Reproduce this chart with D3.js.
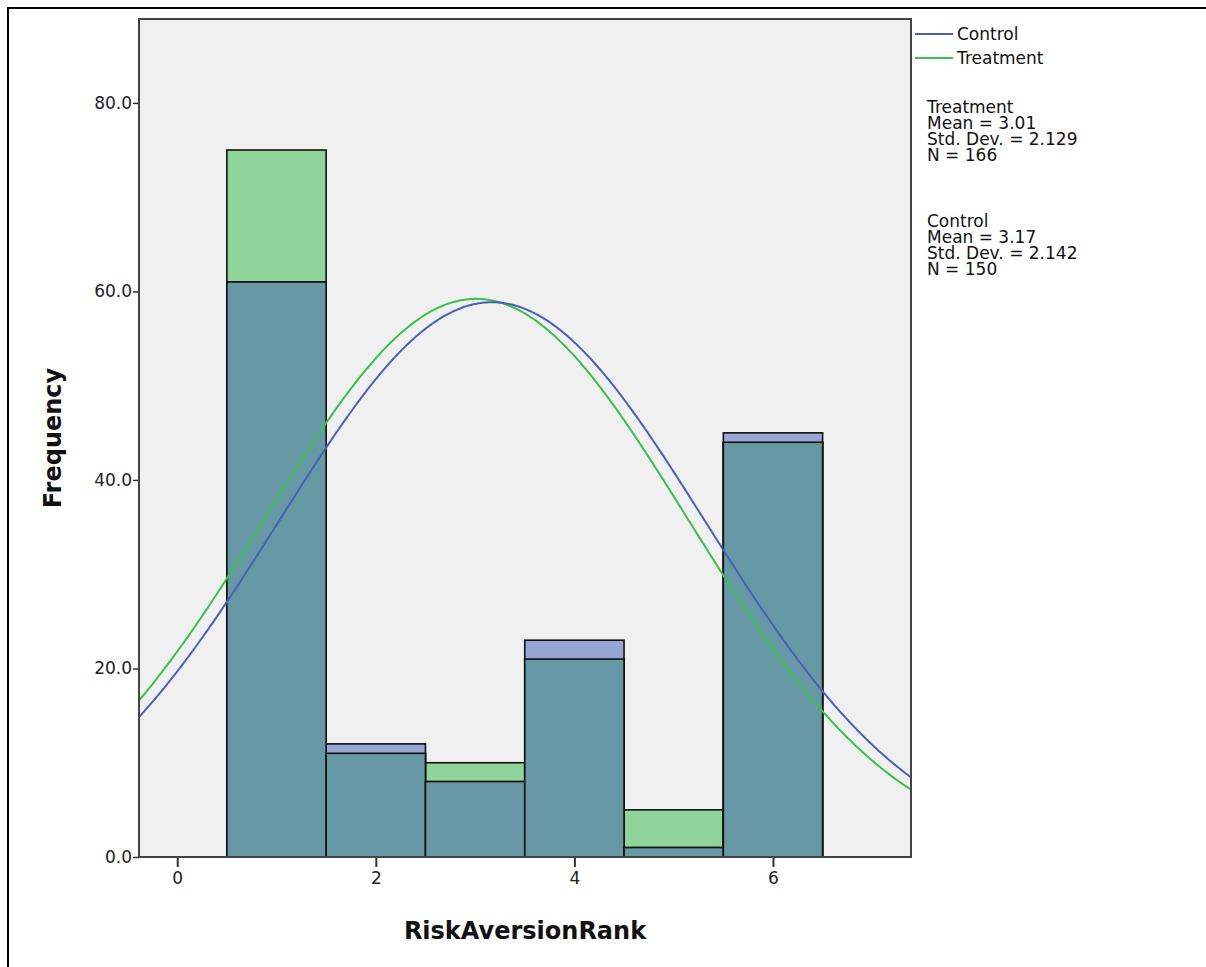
<!DOCTYPE html>
<html>
<head>
<meta charset="utf-8">
<script src="https://cdn.jsdelivr.net/npm/d3@7"></script>
<style>
  body { margin: 0; background: #fff; }
  text { font-family: "DejaVu Sans", Verdana, sans-serif; }
</style>
</head>
<body>
<script>
// chart data
const ranks = [1, 2, 3, 4, 5, 6];
const treatmentCounts = [75, 11, 10, 21, 5, 44];
const controlCounts = [61, 12, 8, 23, 1, 45];
const yTicks = [0, 20, 40, 60, 80];
const xTicks = [0, 2, 4, 6];
const groups = ['Control', 'Treatment'];
const groupMeans = [3.17, 3.01];
const groupSDs = [2.142, 2.129];
const groupNs = [150, 166];

const width = 1206;
const height = 967;
const plot = { left: 139, right: 911, top: 19, bottom: 857 };
const fontFamily = '"DejaVu Sans", Verdana, sans-serif';

const colors = {
  treatment: '#8fd49b',
  control: '#97a6d4',
  overlap: '#6798a5',
  treatmentLine: '#3dbe4e',
  controlLine: '#4a60b8'
};

const svg = d3.select('body')
  .append('svg')
  .attr('width', width)
  .attr('height', height);

// outer frame (top and left edges only show)
svg.append('path')
  .attr('d', `M8,${height} L8,8 L${width},8`)
  .attr('fill', 'none')
  .attr('stroke', '#000')
  .attr('stroke-width', 2);

const x = d3.scaleLinear()
  .domain([-0.385, 7.39])
  .range([plot.left, plot.right]);

const y = d3.scaleLinear()
  .domain([0, 88.9])
  .range([plot.bottom, plot.top]);

// plot background
svg.append('rect')
  .attr('x', plot.left)
  .attr('y', plot.top)
  .attr('width', plot.right - plot.left)
  .attr('height', plot.bottom - plot.top)
  .attr('fill', '#f0f0f0');

svg.append('clipPath')
  .attr('id', 'clip')
  .append('rect')
  .attr('x', plot.left)
  .attr('y', plot.top)
  .attr('width', plot.right - plot.left)
  .attr('height', plot.bottom - plot.top);

const bins = ranks.map((r, i) => ({
  rank: r,
  treat: treatmentCounts[i],
  ctrl: controlCounts[i]
}));

const bars = svg.append('g');

const drawBars = (getVal, fill) => {
  bars.selectAll(null)
    .data(bins)
    .enter()
    .append('rect')
    .attr('x', (d) => x(d.rank - 0.5))
    .attr('width', (d) => x(d.rank + 0.5) - x(d.rank - 0.5))
    .attr('y', (d) => y(getVal(d)))
    .attr('height', (d) => y(0) - y(getVal(d)))
    .attr('fill', fill)
    .attr('stroke', '#111')
    .attr('stroke-width', 1.6);
};

drawBars((d) => d.treat, colors.treatment);
drawBars((d) => d.ctrl, colors.control);
drawBars((d) => Math.min(d.treat, d.ctrl), colors.overlap);

// normal curves, scaled by total N (as SPSS does for grouped histograms)
const totalN = d3.sum(groupNs);
const normal = (v, m, s) => totalN / (s * Math.sqrt(2 * Math.PI)) * Math.exp(-0.5 * ((v - m) / s) ** 2);
const xs = d3.range(x.domain()[0], x.domain()[1] + 0.01, 0.02);

const line = d3.line()
  .x((d) => x(d[0]))
  .y((d) => y(d[1]))
  .curve(d3.curveBasis);

const curves = svg.append('g').attr('clip-path', 'url(#clip)');
[
  { i: 1, color: colors.treatmentLine },
  { i: 0, color: colors.controlLine }
].forEach(({ i, color }) => {
  curves.append('path')
    .datum(xs.map((v) => [v, normal(v, groupMeans[i], groupSDs[i])]))
    .attr('d', line)
    .attr('fill', 'none')
    .attr('stroke', color)
    .attr('stroke-width', 2);
});

// plot border
svg.append('rect')
  .attr('x', plot.left)
  .attr('y', plot.top)
  .attr('width', plot.right - plot.left)
  .attr('height', plot.bottom - plot.top)
  .attr('fill', 'none')
  .attr('stroke', '#444')
  .attr('stroke-width', 2);

// y axis
const yAxis = d3.axisLeft(y)
  .tickValues(yTicks)
  .tickFormat(d3.format('.1f'))
  .tickSize(6)
  .tickPadding(1);

const yG = svg.append('g')
  .attr('transform', `translate(${plot.left}, 0)`)
  .call(yAxis);
yG.select('.domain').remove();
yG.selectAll('line').attr('stroke', '#333').attr('stroke-width', 1.5);
yG.selectAll('text').attr('font-size', 17).attr('fill', '#222')
  .style('font-family', fontFamily);

// x axis
const xAxis = d3.axisBottom(x)
  .tickValues(xTicks)
  .tickFormat(d3.format('d'))
  .tickSize(9)
  .tickPadding(5);

const xG = svg.append('g')
  .attr('transform', `translate(0, ${plot.bottom + 1})`)
  .call(xAxis);
xG.select('.domain').remove();
xG.selectAll('line').attr('stroke', '#333').attr('stroke-width', 2);
xG.selectAll('text').attr('font-size', 17).attr('fill', '#222')
  .style('font-family', fontFamily);

// axis titles
svg.append('text')
  .attr('x', (plot.left + plot.right) / 2)
  .attr('y', 939)
  .attr('text-anchor', 'middle')
  .attr('font-size', 24)
  .attr('font-weight', 'bold')
  .attr('fill', '#111')
  .text('RiskAversionRank');

svg.append('text')
  .attr('transform', `translate(61, 438) rotate(-90)`)
  .attr('text-anchor', 'middle')
  .attr('font-size', 24)
  .attr('font-weight', 'bold')
  .attr('fill', '#111')
  .text('Frequency');

// legend
const legend = svg.append('g');
[
  { label: groups[0], color: colors.controlLine, cy: 34 },
  { label: groups[1], color: colors.treatmentLine, cy: 58 }
].forEach((d) => {
  legend.append('line')
    .attr('x1', 915).attr('x2', 953)
    .attr('y1', d.cy).attr('y2', d.cy)
    .attr('stroke', d.color)
    .attr('stroke-width', 2);
  legend.append('text')
    .attr('x', 957)
    .attr('y', d.cy + 6)
    .attr('font-size', 17)
    .attr('fill', '#111')
    .text(d.label);
});

// stats blocks (tightly stacked as in the source)
const statBlocks = [
  { i: 1, top: 113 },
  { i: 0, top: 227 }
];
statBlocks.forEach(({ i, top }) => {
  const lines = [
    groups[i],
    `Mean = ${groupMeans[i].toFixed(2)}`,
    `Std. Dev. = ${groupSDs[i].toFixed(3)}`,
    `N = ${groupNs[i]}`
  ];
  svg.append('g')
    .selectAll('text')
    .data(lines)
    .enter()
    .append('text')
    .attr('x', 927)
    .attr('y', (d, k) => top + k * 16)
    .attr('font-size', 17)
    .attr('fill', '#111')
    .text((d) => d);
});
</script>
</body>
</html>
